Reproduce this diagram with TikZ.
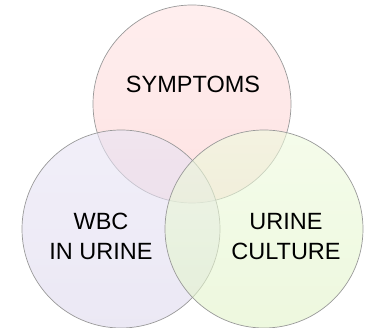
\documentclass[tikz,border=0pt]{standalone}
\usepackage{fontspec}
\setmainfont{Liberation Sans}
\definecolor{pinkT}{RGB}{255,227,227}
\definecolor{pinkB}{RGB}{252,207,207}
\definecolor{lavT}{RGB}{232,228,245}
\definecolor{lavB}{RGB}{222,217,237}
\definecolor{grnT}{RGB}{238,250,221}
\definecolor{grnB}{RGB}{225,243,200}
\begin{document}
\begin{tikzpicture}[x=1pt,y=1pt,
  venn/.style={circle, draw=black!40, line width=0.7pt, minimum size=198pt, inner sep=0pt, fill opacity=0.6, draw opacity=1},
  lbl/.style={font=\fontsize{23.5}{30}\selectfont, align=center, text=black, text opacity=1}]
\useasboundingbox (0,0) rectangle (365,328);
\node[venn, top color=pinkT, bottom color=pinkB] (sym) at (192,224) {};
\node[venn, top color=lavT, bottom color=lavB] (wbc) at (121,99) {};
\node[venn, top color=grnT, bottom color=grnB] (cult) at (264,99) {};
\node[lbl] (tsym) at (193,243.5) {SYMPTOMS};
\node[lbl] (twbc) at (101,91.5) {WBC\\IN URINE};
\node[lbl] (tcult) at (286,91.5) {URINE\\CULTURE};
\end{tikzpicture}
\end{document}
